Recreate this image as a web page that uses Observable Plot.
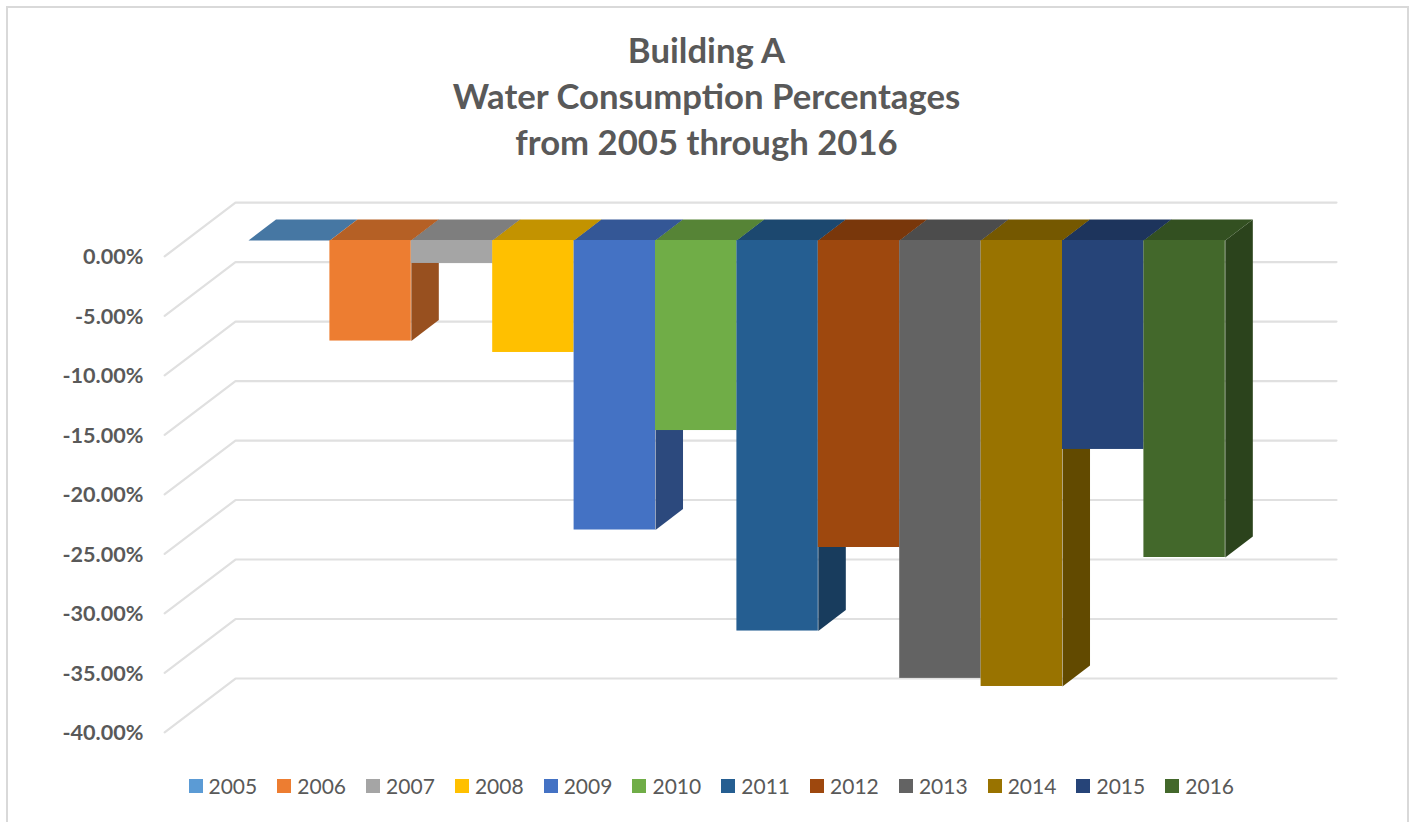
<!DOCTYPE html>
<html>
<head>
<meta charset="utf-8">
<script src="https://cdn.jsdelivr.net/npm/d3@7"></script>
<script src="https://cdn.jsdelivr.net/npm/@observablehq/plot@0.6"></script>
<style>
html,body{margin:0;padding:0;background:#fff;width:1411px;height:822px;overflow:hidden}
#page{position:relative;width:1411px;height:822px;font-family:Lato,sans-serif;color:#595959}
#frame{position:absolute;left:6px;top:6px;width:1399px;height:830px;border:2px solid #d9d9d9;box-sizing:content-box;pointer-events:none}
#title{position:absolute;left:0;top:27px;width:1413px;text-align:center;font-weight:700;font-size:34.7px;line-height:46px}
#chart{position:absolute;left:0;top:185px}
#chart svg{background:transparent;display:block}
#legend{position:absolute;left:188.5px;top:771px;display:flex;font-size:21px;line-height:30px}
#legend .item{display:flex;align-items:center;width:88.8px}
#legend .sw{width:14px;height:14px;margin-right:6px;flex:none}
</style>
</head>
<body>
<div id="page">
  <div id="frame"></div>
  <div id="title">Building A<br>Water Consumption Percentages<br>from 2005 through 2016</div>
  <div id="chart"></div>
  <div id="legend"></div>
</div>
<script>
const years = [2005,2006,2007,2008,2009,2010,2011,2012,2013,2014,2015,2016];
const values = [0,-8.45,-1.93,-9.41,-24.33,-15.97,-32.82,-25.8,-36.8,-37.48,-17.56,-26.64];
const frontColors = ["#5B9BD5","#ED7D31","#A5A5A5","#FFC000","#4472C4","#70AD47","#255E91","#9E480E","#636363","#997300","#264478","#43682B"];
const legendColors = frontColors;
const tickValues = [0,-5,-10,-15,-20,-25,-30,-35,-40];

const depthX = 0.338, depthY = 1.76;      // bar depth in axis units
const wallShift = 3.19;                   // back wall relative to the bar front
const wallLeft = -0.16, wallRight = 13.366, floorLeft = -1.03, floorDrop = -4.53;

const shade = (c,k)=>{const r=d3.rgb(c);return d3.rgb(r.r*k,r.g*k,r.b*k).formatHex();};
const bars = years.map((year,i)=>({year,x0:i,x1:i+1,v:values[i],front:frontColors[i],top:shade(frontColors[i],0.765),side:shade(frontColors[i],0.64)}));

const tops = bars.flatMap(b=>[
  [b.x0,0],[b.x1,0],[b.x1+depthX,depthY],[b.x0+depthX,depthY]
].map(([x,y])=>({x,y,id:b.year,fill:b.top})));
const sides = bars.filter(b=>b.v<0).flatMap(b=>[
  [b.x1,0],[b.x1+depthX,depthY],[b.x1+depthX,b.v+depthY],[b.x1,b.v]
].map(([x,y])=>({x,y,id:b.year,fill:b.side})));
const grid = tickValues.flatMap(v=>[
  {x:floorLeft,y:v+wallShift+floorDrop,id:v},
  {x:wallLeft,y:v+wallShift,id:v},
  {x:wallRight,y:v+wallShift,id:v}
]);

const plot = Plot.plot({
  width:1411, height:575,
  marginLeft:146, marginRight:75, marginTop:0, marginBottom:0,
  style:{background:"transparent",fontFamily:"Lato,sans-serif"},
  x:{domain:[-1.253,13.366],range:[146,1336],axis:null},
  y:{domain:[-43.70,4.622],range:[575,0],axis:null},
  color:{type:"identity"},
  marks:[
    Plot.line(grid,{x:"x",y:"y",z:"id",stroke:"#e0e0e0",strokeWidth:2.2,strokeLinejoin:"round"}),
    Plot.axisY({anchor:"left",ticks:tickValues,tickSize:0,tickPadding:3,label:null,dy:17,
      tickFormat:d=>d.toFixed(2)+"%",fontSize:21.6,fontWeight:700,fill:"#595959"}),
    Plot.line(sides,{x:"x",y:"y",z:"id",fill:"fill",stroke:"none",curve:"linear"}),
    Plot.line(tops,{x:"x",y:"y",z:"id",fill:"fill",stroke:"none",curve:"linear"}),
    Plot.rect(bars.filter(b=>b.v<0),{x1:"x0",x2:"x1",y1:0,y2:"v",fill:"front"})
  ]
});
document.getElementById("chart").appendChild(plot);

const legend = d3.select("#legend");
years.forEach((y,i)=>{
  const it = legend.append("div").attr("class","item");
  it.append("span").attr("class","sw").style("background",legendColors[i]);
  it.append("span").text(y);
});
</script>
</body>
</html>
